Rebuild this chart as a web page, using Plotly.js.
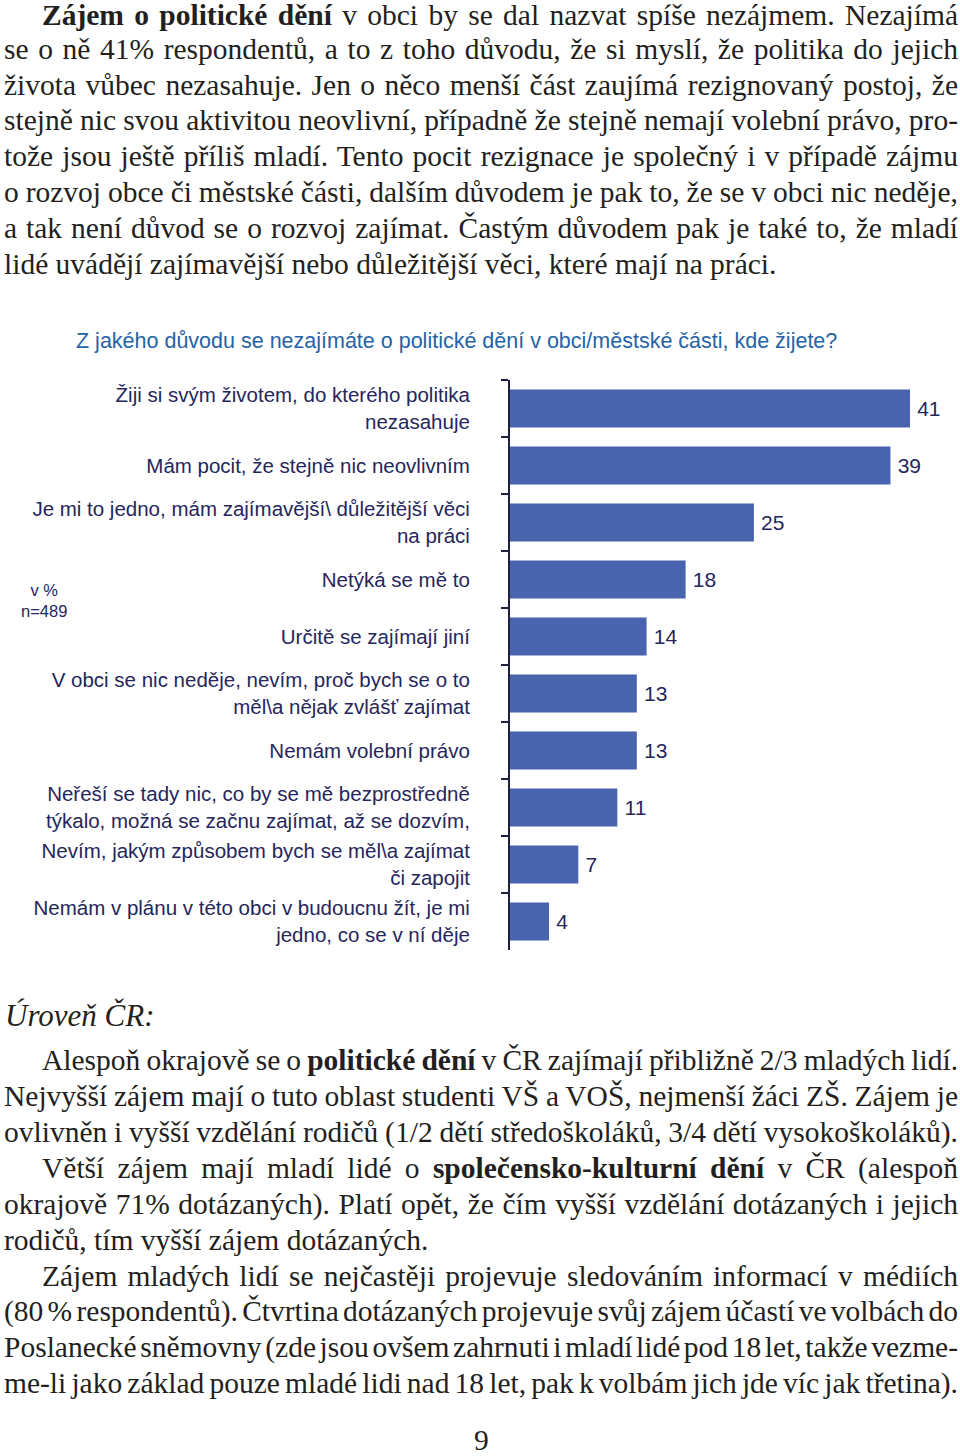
<!DOCTYPE html>
<html>
<head>
<meta charset="utf-8">
<script src="https://cdn.plot.ly/plotly-3.0.1.min.js"></script>
<style>
  html, body { margin:0; padding:0; background:#fff; }
  #page { position:relative; width:960px; height:1456px; overflow:hidden; }
  .ln { position:absolute; font-family:"Liberation Serif","Times New Roman",serif; font-size:29.5px; line-height:28px; height:28px; color:#231f20; white-space:nowrap; }
  .ln b { font-weight:bold; }
  #chart { position:absolute; left:0; top:320px; width:960px; height:640px; }
</style>
</head>
<body>
<div id="page">
  <div id="chart"></div>
</div>
<script>
// ---- data ----
const categories = [
  "Žiji si svým životem, do kterého politika<br>nezasahuje",
  "Mám pocit, že stejně nic neovlivním",
  "Je mi to jedno, mám zajímavější\\ důležitější věci<br>na práci",
  "Netýká se mě to",
  "Určitě se zajímají jiní",
  "V obci se nic neděje, nevím, proč bych se o to<br>měl\\a nějak zvlášť zajímat",
  "Nemám volební právo",
  "Neřeší se tady nic, co by se mě bezprostředně<br>týkalo, možná se začnu zajímat, až se dozvím,",
  "Nevím, jakým způsobem bych se měl\\a zajímat<br>či zapojit",
  "Nemám v plánu v této obci v budoucnu žít, je mi<br>jedno, co se v ní děje"
];
const values = [41, 39, 25, 18, 14, 13, 13, 11, 7, 4];
const chartTitle = "Z jakého důvodu se nezajímáte o politické dění v obci/městské části, kde žijete?";
const noteText = "v %<br>n=489";

const topLines = [
  "<b>Zájem o politické dění</b> v obci by se dal nazvat spíše nezájmem. Nezajímá",
  "se o ně 41% respondentů, a to z toho důvodu, že si myslí, že politika do jejich",
  "života vůbec nezasahuje. Jen o něco menší část zaujímá rezignovaný postoj, že",
  "stejně nic svou aktivitou neovlivní, případně že stejně nemají volební právo, pro-",
  "tože jsou ještě příliš mladí. Tento pocit rezignace je společný i v případě zájmu",
  "o rozvoj obce či městské části, dalším důvodem je pak to, že se v obci nic neděje,",
  "a tak není důvod se o rozvoj zajímat. Častým důvodem pak je také to, že mladí",
  "lidé uvádějí zajímavější nebo důležitější věci, které mají na práci."
];
const bottomLines = [
  "Alespoň okrajově se o <b>politické dění</b> v ČR zajímají přibližně 2/3 mladých lidí.",
  "Nejvyšší zájem mají o tuto oblast studenti VŠ a VOŠ, nejmenší žáci ZŠ. Zájem je",
  "ovlivněn i vyšší vzdělání rodičů (1/2 dětí středoškoláků, 3/4 dětí vysokoškoláků).",
  "Větší zájem mají mladí lidé o <b>společensko-kulturní dění</b> v ČR (alespoň",
  "okrajově 71% dotázaných). Platí opět, že čím vyšší vzdělání dotázaných i jejich",
  "rodičů, tím vyšší zájem dotázaných.",
  "Zájem mladých lidí se nejčastěji projevuje sledováním informací v médiích",
  "(80 % respondentů). Čtvrtina dotázaných projevuje svůj zájem účastí ve volbách do",
  "Poslanecké sněmovny (zde jsou ovšem zahrnuti i mladí lidé pod 18 let, takže vezme-",
  "me-li jako základ pouze mladé lidi nad 18 let, pak k volbám jich jde víc jak třetina)."
];
const sectionHeading = "Úroveň ČR:";
const pageNumber = "9";

// ---- text layout ----
const page = document.getElementById('page');
function addLine(html, left, centerY, justify, extraStyle) {
  const d = document.createElement('div');
  d.className = 'ln';
  d.style.left = left + 'px';
  d.style.top = (centerY - 14) + 'px';
  if (extraStyle) d.setAttribute('style', d.getAttribute('style') + ';' + extraStyle);
  d.innerHTML = html;
  page.appendChild(d);
  if (justify) {
    const target = 958 - left;
    const natural = d.getBoundingClientRect().width;
    const spaces = (d.textContent.match(/ /g) || []).length;
    if (spaces > 0) d.style.wordSpacing = ((target - natural) / spaces) + 'px';
  } else {
    const w = d.getBoundingClientRect().width;
    if (left + w > 958) {
      const spaces = (d.textContent.match(/ /g) || []).length;
      if (spaces > 0) d.style.wordSpacing = ((958 - left - w) / spaces) + 'px';
    }
  }
  return d;
}
const topY = [15, 49, 85, 120, 156, 192, 228, 264];
topLines.forEach((t, i) => {
  const indent = (i === 0) ? 42 : 4;
  addLine(t, indent, topY[i], i !== topLines.length - 1);
});
addLine(sectionHeading, 5, 1016, false, 'font-style:italic;font-size:31px;');
const botY = [1060, 1096, 1132, 1168, 1204, 1240, 1276, 1311, 1347, 1383];
const indents = [42, 4, 4, 42, 4, 4, 42, 4, 4, 4];
const justified = [true, true, false, true, true, false, true, true, true, true];
bottomLines.forEach((t, i) => addLine(t, indents[i], botY[i], justified[i]));
addLine(pageNumber, 474, 1440, false);

// ---- chart ----
const navy = '#25265c';
const sans = 'Liberation Sans, Arial, sans-serif';
const trace = {
  type: 'bar',
  orientation: 'h',
  x: values,
  y: categories,
  text: values.map(v => '\u2009' + v),
  textposition: 'outside',
  textfont: { family: sans, size: 21, color: navy },
  cliponaxis: false,
  marker: { color: '#4864ae' },
  hoverinfo: 'skip'
};
const layout = {
  width: 960, height: 640,
  margin: { l: 510, r: 11, t: 60, b: 10 },
  paper_bgcolor: '#fff', plot_bgcolor: '#fff',
  showlegend: false,
  bargap: 0.33,
  font: { family: sans, color: navy },
  title: {
    text: chartTitle,
    xref: 'container', x: 76 / 960, xanchor: 'left',
    yref: 'container', y: 1 - 20 / 640, yanchor: 'middle',
    font: { family: sans, size: 21.5, color: '#2563a6' }
  },
  xaxis: { range: [0, 45], visible: false, fixedrange: true },
  yaxis: {
    type: 'category',
    autorange: 'reversed',
    tickson: 'boundaries',
    ticks: 'outside', ticklen: 7, tickwidth: 2, tickcolor: '#1f1f3f',
    showline: true, linecolor: '#1f1f3f', linewidth: 2,
    showgrid: false, zeroline: false,
    ticklabelstandoff: 34,
    tickfont: { family: sans, size: 20.5, color: navy },
    fixedrange: true
  },
  annotations: [{
    text: noteText, xref: 'paper', yref: 'paper',
    x: (44 - 510) / 439, y: 1 - (280 - 60) / 570,
    xanchor: 'center', yanchor: 'middle', align: 'center', showarrow: false,
    font: { family: sans, size: 16.5, color: navy }
  }]
};
Plotly.newPlot('chart', [trace], layout, { displayModeBar: false, staticPlot: true });
</script>
</body>
</html>
